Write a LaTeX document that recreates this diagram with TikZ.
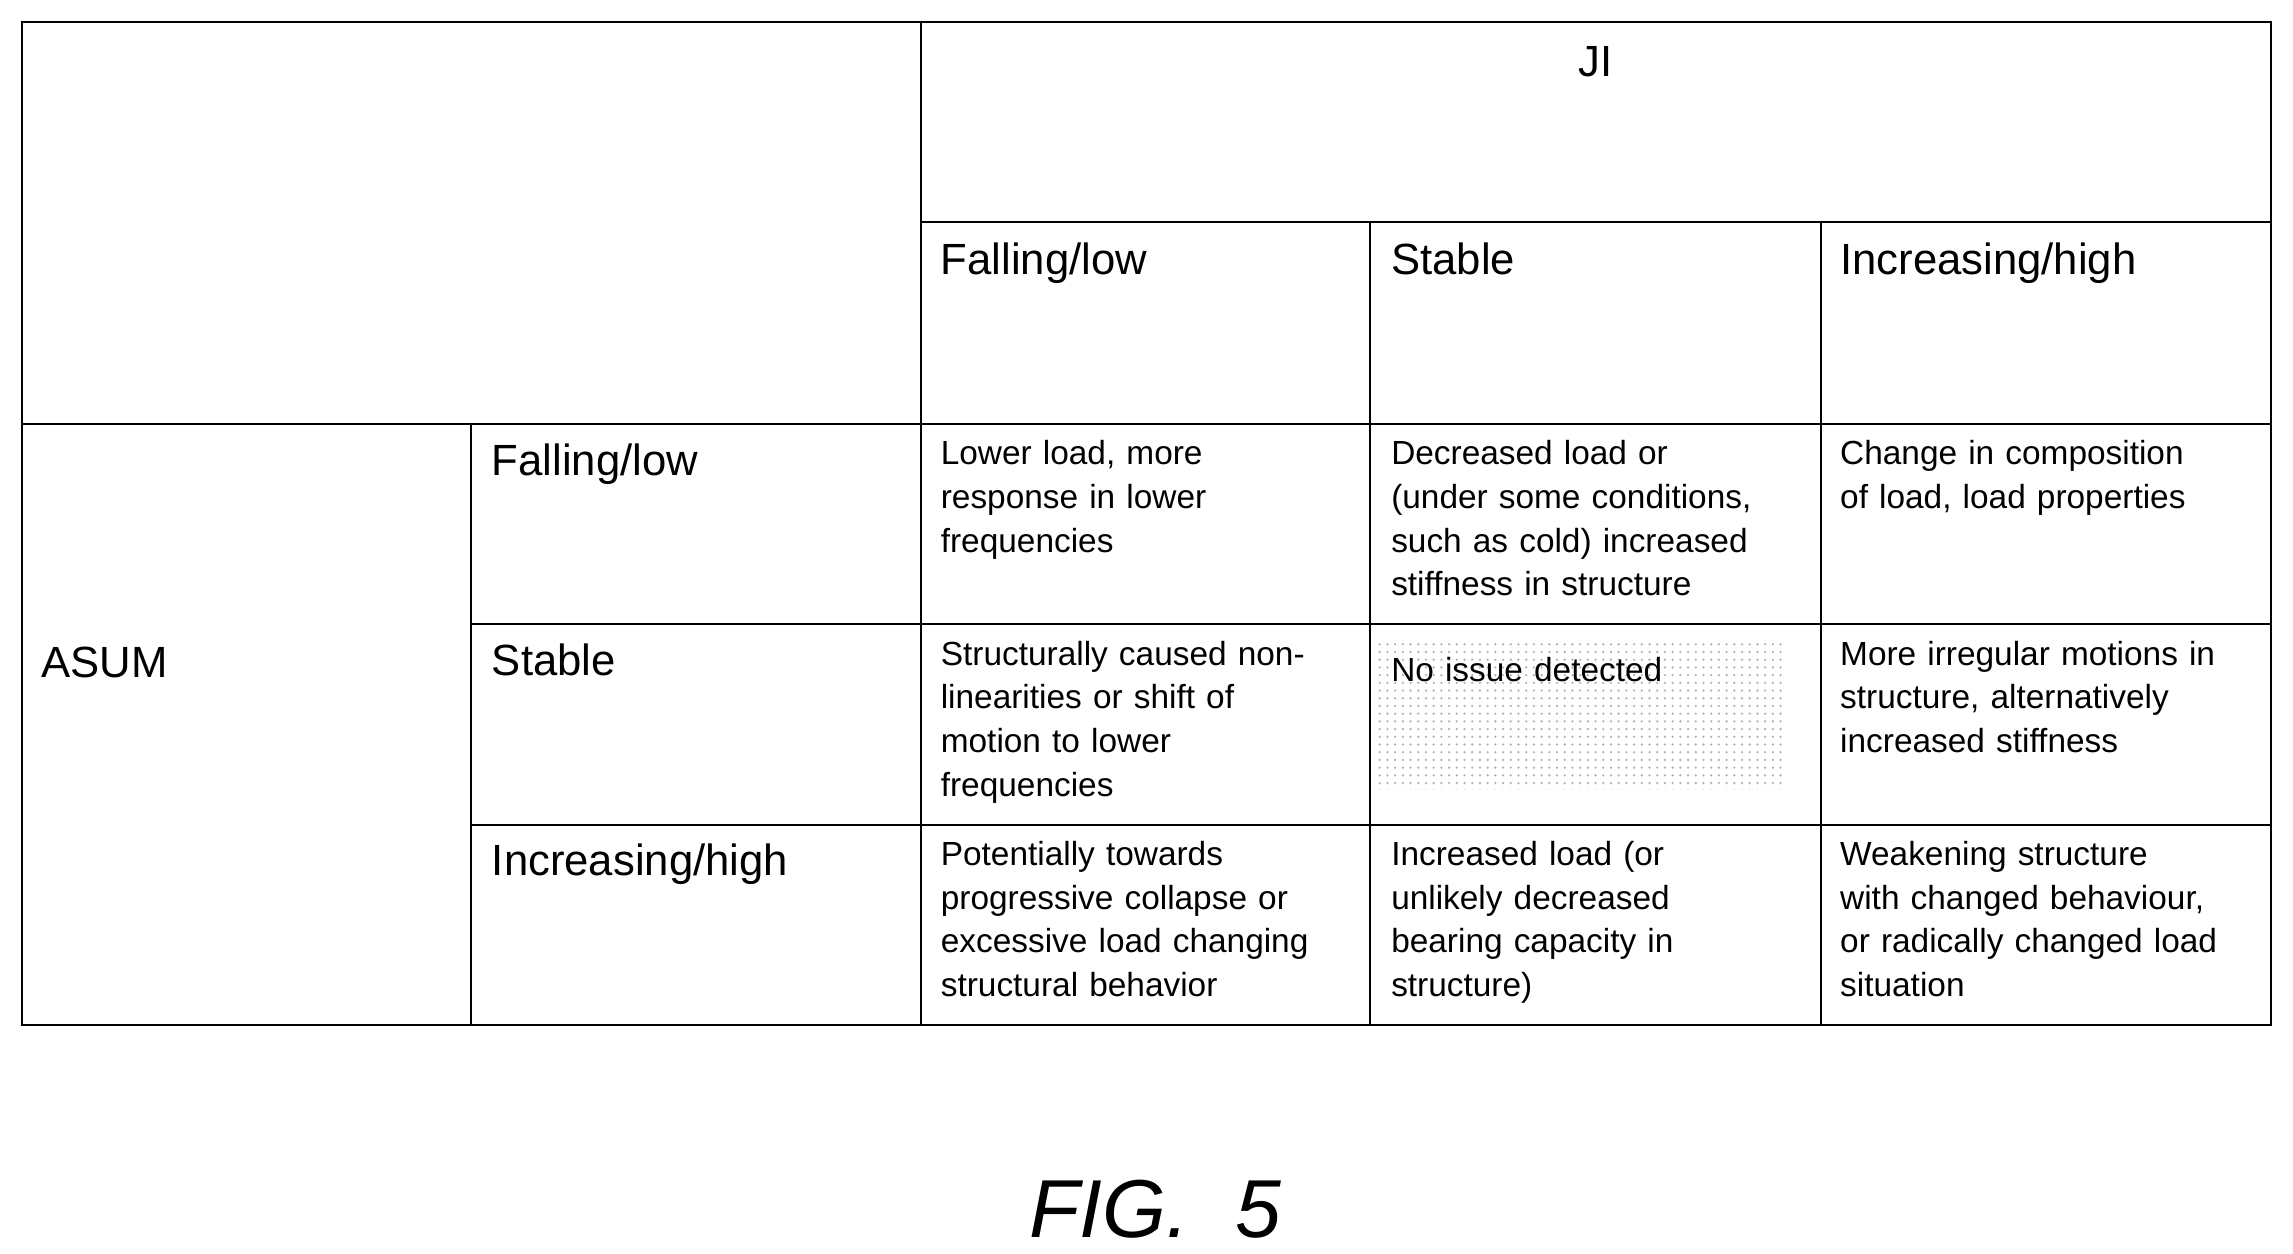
\documentclass[tikz,border=0pt]{standalone}
\usepackage{fontspec}
\setmainfont{Liberation Sans}
\usetikzlibrary{patterns}
\tikzset{
  cell/.style={anchor=north west,inner sep=0pt,text width=5.6cm,align=left,
    font=\fontsize{13}{17}\selectfont},
  head/.style={anchor=north west,inner sep=0pt,font=\fontsize{17}{20}\selectfont},
  grid/.style={line width=0.8pt}
}
\begin{document}
\begin{tikzpicture}[x=0.02cm,y=-0.02cm]
\useasboundingbox (0,0) rectangle (1568,857);
% stippled cell
\fill[pattern=dots,pattern color=gray!60] (940,440) rectangle (1220,540);
% table rules
\draw[grid] (15,15) rectangle (1553,701);
\draw[grid] (630,15) -- (630,701);
\draw[grid] (630,152) -- (1553,152);
\draw[grid] (15,290) -- (1553,290);
\draw[grid] (322,290) -- (322,701);
\draw[grid] (937,152) -- (937,701);
\draw[grid] (1245,152) -- (1245,701);
\foreach \y in {427,564} \draw[grid] (322,\y) -- (1553,\y);
% headings
\node[font=\fontsize{17}{20}\selectfont] (ji) at (1091,42) {JI};
\node[head] (jfall) at (643,166) {Falling/low};
\node[head] (jstab) at (951,166) {Stable};
\node[head] (jinc) at (1258,166) {Increasing/high};
\node[head,anchor=west] (asum) at (28,453) {ASUM};
\node[head] (afall) at (336,303) {Falling/low};
\node[head] (astab) at (336,440) {Stable};
\node[head] (ainc) at (336,577) {Increasing/high};
% cells
\node[cell] (c11) at (643,301) {Lower load, more\\response in lower\\frequencies};
\node[cell] (c12) at (951,301) {Decreased load or\\(under some conditions,\\such as cold) increased\\stiffness in structure};
\node[cell] (c13) at (1258,301) {Change in composition\\of load, load properties};
\node[cell] (c21) at (643,438) {Structurally caused non-\\linearities or shift of\\motion to lower\\frequencies};
\node[cell] (c22) at (951,449) {No issue detected};
\node[cell] (c23) at (1258,438) {More irregular motions in\\structure, alternatively\\increased stiffness};
\node[cell] (c31) at (643,575) {Potentially towards\\progressive collapse or\\excessive load changing\\structural behavior};
\node[cell] (c32) at (951,575) {Increased load (or\\unlikely decreased\\bearing capacity in\\structure)};
\node[cell] (c33) at (1258,575) {Weakening structure\\with changed behaviour,\\or radically changed load\\situation};
% caption
\node[font=\fontsize{32}{36}\selectfont\itshape] (fig) at (790,827) {FIG.~~5};
\end{tikzpicture}
\end{document}
